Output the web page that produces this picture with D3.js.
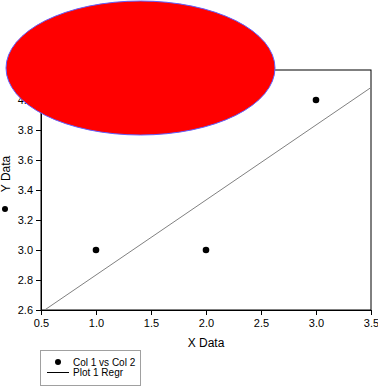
<!DOCTYPE html>
<html><head><meta charset="utf-8">
<script src="https://cdn.jsdelivr.net/npm/d3@7/dist/d3.min.js"></script>
<style>body{margin:0;background:#fff}svg{display:block;font-family:"Liberation Sans",Arial,sans-serif}</style>
</head><body><svg id="c" width="378" height="386"></svg>
<script>
const xData = [1, 2, 3];
const yData = [3, 3, 4];
const xTicks = [0.5, 1.0, 1.5, 2.0, 2.5, 3.0, 3.5];
const yTicks = [2.6, 2.8, 3.0, 3.2, 3.4, 3.6, 3.8, 4.0];
const legendLabels = ["Col 1 vs Col 2", "Plot 1 Regr"];

const svg = d3.select("#c");
const L = 41, R = 371, T = 70, B = 310;
const x = d3.scaleLinear().domain([0.5, 3.5]).range([L, R]);
const y = d3.scaleLinear().domain([2.6, 4.2]).range([B, T]);

// regression
const mx = d3.mean(xData), my = d3.mean(yData);
const slope = d3.sum(xData.map((v,i)=>(v-mx)*(yData[i]-my))) / d3.sum(xData.map(v=>(v-mx)*(v-mx)));
const icpt = my - slope*mx;

svg.append("defs").append("clipPath").attr("id","pc").append("rect")
  .attr("x",L).attr("y",T).attr("width",R-L).attr("height",B-T);

// frame
svg.append("rect").attr("x",L).attr("y",T).attr("width",R-L).attr("height",B-T)
  .attr("fill","none").attr("stroke","#000").attr("stroke-width",1);

const xAxis = svg.append("g").attr("transform",`translate(0,${B})`)
  .call(d3.axisBottom(x).tickValues(xTicks).tickFormat(d3.format(".1f")).tickSizeOuter(0).tickSize(5).tickPadding(4));
const yAxis = svg.append("g").attr("transform",`translate(${L},0)`)
  .call(d3.axisLeft(y).tickValues(yTicks).tickFormat(d3.format(".1f")).tickSizeOuter(0).tickSize(5).tickPadding(3));
[xAxis,yAxis].forEach(a=>{
  a.selectAll("text").attr("font-size",11).attr("fill","#000").style("font-family","Liberation Sans, Arial, sans-serif");
  a.select(".domain").attr("stroke","#000");
  a.selectAll(".tick line").attr("stroke","#000");
});

// regression line
svg.append("line").attr("clip-path","url(#pc)")
  .attr("x1",x(0.5)).attr("y1",y(icpt+slope*0.5))
  .attr("x2",x(3.5)).attr("y2",y(icpt+slope*3.5))
  .attr("stroke","#808080").attr("stroke-width",1);

// points
svg.selectAll("circle.pt").data(xData).join("circle").attr("class","pt")
  .attr("cx",(d)=>x(d)).attr("cy",(d,i)=>y(yData[i])).attr("r",3.3).attr("fill","#000");

// axis titles
svg.append("text").attr("x",206).attr("y",347).attr("text-anchor","middle")
  .attr("font-size",12).attr("fill","#000").text("X Data");
svg.append("text").attr("transform","translate(10,174) rotate(-90)").attr("text-anchor","middle")
  .attr("font-size",12).attr("fill","#000").text("Y Data");
svg.append("circle").attr("cx",5).attr("cy",209).attr("r",3).attr("fill","#000");

// ellipse
svg.append("ellipse").attr("cx",140.5).attr("cy",68).attr("rx",134.5).attr("ry",67)
  .attr("fill","#ff0000").attr("stroke","#6060ff").attr("stroke-width",1);

// legend
const lg = svg.append("g");
lg.append("rect").attr("x",40.5).attr("y",350.5).attr("width",100).attr("height",35)
  .attr("fill","#fff").attr("stroke","#a0a0a0").attr("stroke-width",1);
lg.append("circle").attr("cx",58).attr("cy",362).attr("r",3).attr("fill","#000");
lg.append("line").attr("x1",47).attr("x2",69).attr("y1",372.5).attr("y2",372.5).attr("stroke","#000");
lg.selectAll("text").data(legendLabels).join("text")
  .attr("x",73).attr("y",(d,i)=>366+i*10).attr("font-size",10).attr("fill","#000").text(d=>d);
</script></body></html>
